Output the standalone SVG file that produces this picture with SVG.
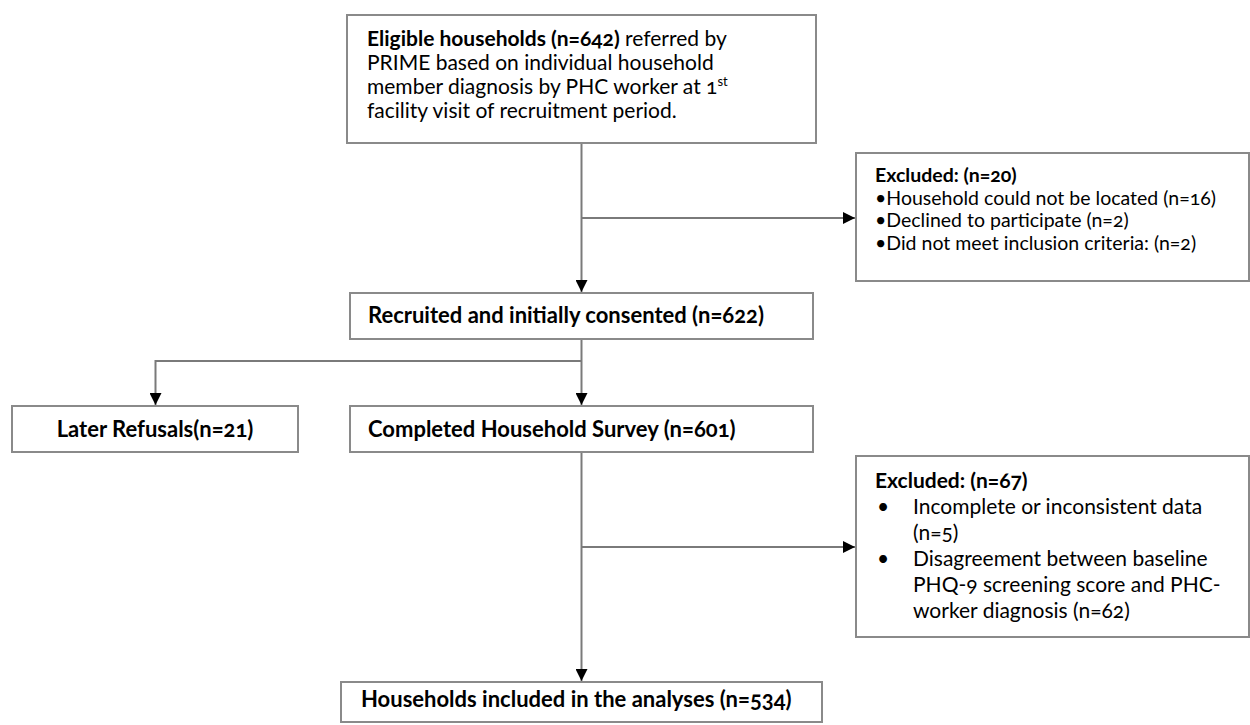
<svg xmlns="http://www.w3.org/2000/svg" width="1250" height="725" viewBox="0 0 1250 725">
<defs>
<style>
.box{fill:#ffffff;stroke:#8a8a8a;stroke-width:2}
.ln{fill:none;stroke:#7a7a7a;stroke-width:2}
text{font-family:Lato,"Open Sans","Liberation Sans",sans-serif;font-size:21px;fill:#000;font-variant-numeric:oldstyle-nums}
.b{font-weight:bold}
.one{font-weight:bold;font-size:22px}
.ex1{font-size:19.5px}
</style>
<marker id="ah" viewBox="0 0 10 10" refX="10" refY="5" markerUnits="userSpaceOnUse" markerWidth="13" markerHeight="12" orient="auto">
<path d="M0,0 L10,5 L0,10 z" fill="#000"/>
</marker>
</defs>
<rect width="1250" height="725" fill="#fff"/>
<g id="connectors">
<line class="ln" x1="581.5" y1="143" x2="581.5" y2="292" marker-end="url(#ah)"/>
<line class="ln" x1="581.5" y1="218" x2="855" y2="218" marker-end="url(#ah)"/>
<line class="ln" x1="581.5" y1="339" x2="581.5" y2="405" marker-end="url(#ah)"/>
<polyline class="ln" points="581.5,361 155.5,361 155.5,405" marker-end="url(#ah)"/>
<line class="ln" x1="581.5" y1="452" x2="581.5" y2="681" marker-end="url(#ah)"/>
<line class="ln" x1="581.5" y1="547" x2="855" y2="547" marker-end="url(#ah)"/>
</g>
<g id="eligible">
<rect class="box" x="347" y="15" width="469" height="128"/>
<text x="367" y="46"><tspan class="b">Eligible households (n=642)</tspan> referred by</text>
<text x="367" y="70">PRIME based on individual household</text>
<text x="367" y="94">member diagnosis by PHC worker at 1<tspan font-size="13" baseline-shift="super">st</tspan></text>
<text x="367" y="118">facility visit of recruitment period.</text>
</g>
<g id="excluded1">
<rect class="box" x="856" y="153" width="393" height="128"/>
<text x="875" y="182" class="b ex1">Excluded: (n=20)</text>
<text x="875" y="204.5" class="ex1">•Household could not be located (n=16)</text>
<text x="875" y="227" class="ex1">•Declined to participate (n=2)</text>
<text x="875" y="249.5" class="ex1">•Did not meet inclusion criteria: (n=2)</text>
</g>
<g id="recruited">
<rect class="box" x="350" y="293" width="463" height="46"/>
<text x="368" y="323" class="one">Recruited and initially consented (n=622)</text>
</g>
<g id="refusals">
<rect class="box" x="12" y="406" width="286" height="46"/>
<text x="155" y="437" class="one" text-anchor="middle">Later Refusals(n=21)</text>
</g>
<g id="completed">
<rect class="box" x="350" y="406" width="463" height="46"/>
<text x="368" y="437" class="one">Completed Household Survey (n=601)</text>
</g>
<g id="excluded2">
<rect class="box" x="856" y="456" width="393" height="181"/>
<text x="875" y="488" class="b">Excluded: (n=67)</text>
<text x="877" y="514">•</text>
<text x="913" y="514">Incomplete or inconsistent data</text>
<text x="913" y="540">(n=5)</text>
<text x="877" y="566">•</text>
<text x="913" y="566">Disagreement between baseline</text>
<text x="913" y="592">PHQ-9 screening score and PHC-</text>
<text x="913" y="618">worker diagnosis (n=62)</text>
</g>
<g id="included">
<rect class="box" x="341" y="682" width="481" height="40"/>
<text x="361" y="707" class="one">Households included in the analyses (n=534)</text>
</g>
</svg>
